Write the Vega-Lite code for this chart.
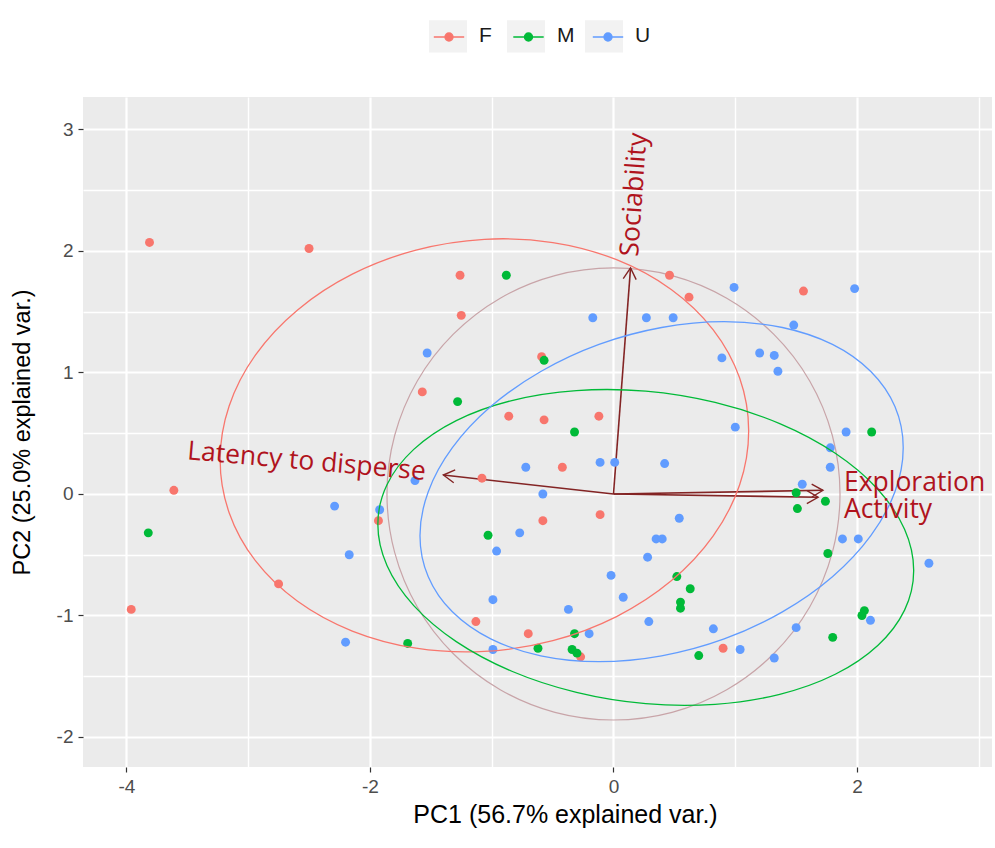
{
  "$schema": "https://vega.github.io/schema/vega-lite/v6.json",
  "width": 909,
  "height": 670,
  "autosize": {"type": "none"},
  "padding": {"left": 83, "top": 97, "right": 3, "bottom": 81},
  "background": "white",
  "config": {
    "view": {"fill": "#EBEBEB", "stroke": null},
    "font": "Liberation Sans"
  },
  "datasets": {
    "pts": [
      {"x": -3.81, "y": 2.07, "g": "F"}, {"x": -2.50, "y": 2.02, "g": "F"}, {"x": -1.26, "y": 1.80, "g": "F"}, {"x": -1.25, "y": 1.47, "g": "F"},
      {"x": -0.59, "y": 1.13, "g": "F"}, {"x": -1.57, "y": 0.84, "g": "F"}, {"x": -0.86, "y": 0.64, "g": "F"}, {"x": -0.57, "y": 0.61, "g": "F"},
      {"x": -0.12, "y": 0.64, "g": "F"}, {"x": 0.46, "y": 1.80, "g": "F"}, {"x": 0.62, "y": 1.62, "g": "F"}, {"x": -0.42, "y": 0.22, "g": "F"},
      {"x": 1.56, "y": 1.67, "g": "F"}, {"x": -3.61, "y": 0.03, "g": "F"}, {"x": -3.96, "y": -0.95, "g": "F"}, {"x": -2.75, "y": -0.74, "g": "F"},
      {"x": -1.93, "y": -0.22, "g": "F"}, {"x": -1.08, "y": 0.13, "g": "F"}, {"x": -0.58, "y": -0.22, "g": "F"}, {"x": -0.11, "y": -0.17, "g": "F"},
      {"x": -1.13, "y": -1.05, "g": "F"}, {"x": -0.70, "y": -1.15, "g": "F"}, {"x": -0.27, "y": -1.34, "g": "F"}, {"x": 0.90, "y": -1.27, "g": "F"},
      {"x": -0.88, "y": 1.80, "g": "M"}, {"x": -0.57, "y": 1.10, "g": "M"}, {"x": -1.28, "y": 0.76, "g": "M"}, {"x": -0.32, "y": 0.51, "g": "M"},
      {"x": 2.12, "y": 0.51, "g": "M"}, {"x": -3.82, "y": -0.32, "g": "M"}, {"x": -1.03, "y": -0.34, "g": "M"}, {"x": 0.52, "y": -0.68, "g": "M"},
      {"x": -0.32, "y": -1.15, "g": "M"}, {"x": -1.69, "y": -1.23, "g": "M"}, {"x": -0.62, "y": -1.27, "g": "M"}, {"x": -0.34, "y": -1.28, "g": "M"},
      {"x": -0.30, "y": -1.31, "g": "M"}, {"x": 0.63, "y": -0.78, "g": "M"}, {"x": 0.55, "y": -0.89, "g": "M"}, {"x": 0.55, "y": -0.94, "g": "M"},
      {"x": 1.50, "y": 0.01, "g": "M"}, {"x": 1.74, "y": -0.06, "g": "M"}, {"x": 1.51, "y": -0.12, "g": "M"}, {"x": 1.76, "y": -0.49, "g": "M"},
      {"x": 2.06, "y": -0.96, "g": "M"}, {"x": 2.04, "y": -1.00, "g": "M"}, {"x": 1.80, "y": -1.18, "g": "M"}, {"x": 0.70, "y": -1.33, "g": "M"},
      {"x": -1.53, "y": 1.16, "g": "U"}, {"x": -0.17, "y": 1.45, "g": "U"}, {"x": 0.27, "y": 1.45, "g": "U"}, {"x": 0.49, "y": 1.45, "g": "U"},
      {"x": -0.72, "y": 0.22, "g": "U"}, {"x": -0.11, "y": 0.26, "g": "U"}, {"x": 0.01, "y": 0.26, "g": "U"}, {"x": 0.42, "y": 0.25, "g": "U"},
      {"x": 0.99, "y": 1.70, "g": "U"}, {"x": 1.98, "y": 1.69, "g": "U"}, {"x": 1.48, "y": 1.39, "g": "U"}, {"x": 0.89, "y": 1.12, "g": "U"},
      {"x": 1.20, "y": 1.16, "g": "U"}, {"x": 1.32, "y": 1.14, "g": "U"}, {"x": 1.35, "y": 1.01, "g": "U"}, {"x": 1.00, "y": 0.55, "g": "U"},
      {"x": 1.91, "y": 0.51, "g": "U"}, {"x": 1.78, "y": 0.38, "g": "U"}, {"x": 1.78, "y": 0.22, "g": "U"}, {"x": -2.29, "y": -0.10, "g": "U"},
      {"x": -2.17, "y": -0.50, "g": "U"}, {"x": -2.20, "y": -1.22, "g": "U"}, {"x": -1.92, "y": -0.13, "g": "U"}, {"x": -1.63, "y": 0.11, "g": "U"},
      {"x": -0.58, "y": 0.00, "g": "U"}, {"x": -0.77, "y": -0.32, "g": "U"}, {"x": -0.96, "y": -0.47, "g": "U"}, {"x": 0.54, "y": -0.20, "g": "U"},
      {"x": 0.35, "y": -0.37, "g": "U"}, {"x": 0.40, "y": -0.37, "g": "U"}, {"x": 0.28, "y": -0.52, "g": "U"}, {"x": -0.02, "y": -0.67, "g": "U"},
      {"x": -0.99, "y": -0.87, "g": "U"}, {"x": 0.08, "y": -0.85, "g": "U"}, {"x": -0.37, "y": -0.95, "g": "U"}, {"x": 0.29, "y": -1.05, "g": "U"},
      {"x": -0.20, "y": -1.15, "g": "U"}, {"x": -0.99, "y": -1.28, "g": "U"}, {"x": 1.55, "y": 0.08, "g": "U"}, {"x": 1.88, "y": -0.37, "g": "U"},
      {"x": 2.01, "y": -0.37, "g": "U"}, {"x": 2.59, "y": -0.57, "g": "U"}, {"x": 2.11, "y": -1.04, "g": "U"}, {"x": 0.82, "y": -1.11, "g": "U"},
      {"x": 1.50, "y": -1.10, "g": "U"}, {"x": 1.04, "y": -1.28, "g": "U"}, {"x": 1.32, "y": -1.35, "g": "U"}
    ],
    "keys": [
      {"k": "F", "x": 0, "y": 0}, {"k": "M", "x": 0, "y": 0}, {"k": "U", "x": 0, "y": 0}
    ],
    "circ": [
      {"i": 0, "x": 1.86, "y": 0}, {"i": 1, "x": 1.797, "y": 0.481}, {"i": 2, "x": 1.611, "y": 0.93}, {"i": 3, "x": 1.315, "y": 1.315},
      {"i": 4, "x": 0.93, "y": 1.611}, {"i": 5, "x": 0.481, "y": 1.797}, {"i": 6, "x": 0, "y": 1.86}, {"i": 7, "x": -0.481, "y": 1.797},
      {"i": 8, "x": -0.93, "y": 1.611}, {"i": 9, "x": -1.315, "y": 1.315}, {"i": 10, "x": -1.611, "y": 0.93}, {"i": 11, "x": -1.797, "y": 0.481},
      {"i": 12, "x": -1.86, "y": 0}, {"i": 13, "x": -1.797, "y": -0.481}, {"i": 14, "x": -1.611, "y": -0.93}, {"i": 15, "x": -1.315, "y": -1.315},
      {"i": 16, "x": -0.93, "y": -1.611}, {"i": 17, "x": -0.481, "y": -1.797}, {"i": 18, "x": 0, "y": -1.86}, {"i": 19, "x": 0.481, "y": -1.797},
      {"i": 20, "x": 0.93, "y": -1.611}, {"i": 21, "x": 1.315, "y": -1.315}, {"i": 22, "x": 1.611, "y": -0.93}, {"i": 23, "x": 1.797, "y": -0.481}
    ],
    "ell": [
      {"g": "F", "i": 0, "x": 1.11, "y": 0.519}, {"g": "F", "i": 1, "x": 1.036, "y": 0.954}, {"g": "F", "i": 2, "x": 0.819, "y": 1.351}, {"g": "F", "i": 3, "x": 0.474, "y": 1.683},
      {"g": "F", "i": 4, "x": 0.025, "y": 1.928}, {"g": "F", "i": 5, "x": -0.498, "y": 2.069}, {"g": "F", "i": 6, "x": -1.06, "y": 2.096}, {"g": "F", "i": 7, "x": -1.622, "y": 2.007},
      {"g": "F", "i": 8, "x": -2.145, "y": 1.809}, {"g": "F", "i": 9, "x": -2.594, "y": 1.515}, {"g": "F", "i": 10, "x": -2.939, "y": 1.145}, {"g": "F", "i": 11, "x": -3.156, "y": 0.724},
      {"g": "F", "i": 12, "x": -3.23, "y": 0.281}, {"g": "F", "i": 13, "x": -3.156, "y": -0.154}, {"g": "F", "i": 14, "x": -2.939, "y": -0.551}, {"g": "F", "i": 15, "x": -2.594, "y": -0.883},
      {"g": "F", "i": 16, "x": -2.145, "y": -1.128}, {"g": "F", "i": 17, "x": -1.622, "y": -1.269}, {"g": "F", "i": 18, "x": -1.06, "y": -1.296}, {"g": "F", "i": 19, "x": -0.498, "y": -1.207},
      {"g": "F", "i": 20, "x": 0.025, "y": -1.009}, {"g": "F", "i": 21, "x": 0.474, "y": -0.715}, {"g": "F", "i": 22, "x": 0.819, "y": -0.345}, {"g": "F", "i": 23, "x": 1.036, "y": 0.076},
      {"g": "M", "i": 0, "x": 2.465, "y": -0.63}, {"g": "M", "i": 1, "x": 2.39, "y": -0.291}, {"g": "M", "i": 2, "x": 2.17, "y": 0.039}, {"g": "M", "i": 3, "x": 1.821, "y": 0.335},
      {"g": "M", "i": 4, "x": 1.365, "y": 0.579}, {"g": "M", "i": 5, "x": 0.834, "y": 0.753}, {"g": "M", "i": 6, "x": 0.265, "y": 0.846}, {"g": "M", "i": 7, "x": -0.304, "y": 0.851},
      {"g": "M", "i": 8, "x": -0.835, "y": 0.769}, {"g": "M", "i": 9, "x": -1.291, "y": 0.604}, {"g": "M", "i": 10, "x": -1.64, "y": 0.367}, {"g": "M", "i": 11, "x": -1.86, "y": 0.076},
      {"g": "M", "i": 12, "x": -1.935, "y": -0.25}, {"g": "M", "i": 13, "x": -1.86, "y": -0.589}, {"g": "M", "i": 14, "x": -1.64, "y": -0.919}, {"g": "M", "i": 15, "x": -1.291, "y": -1.215},
      {"g": "M", "i": 16, "x": -0.835, "y": -1.459}, {"g": "M", "i": 17, "x": -0.304, "y": -1.633}, {"g": "M", "i": 18, "x": 0.265, "y": -1.726}, {"g": "M", "i": 19, "x": 0.834, "y": -1.731},
      {"g": "M", "i": 20, "x": 1.365, "y": -1.649}, {"g": "M", "i": 21, "x": 1.821, "y": -1.484}, {"g": "M", "i": 22, "x": 2.17, "y": -1.247}, {"g": "M", "i": 23, "x": 2.39, "y": -0.956},
      {"g": "U", "i": 0, "x": 2.379, "y": 0.381}, {"g": "U", "i": 1, "x": 2.311, "y": 0.719}, {"g": "U", "i": 2, "x": 2.113, "y": 1.008}, {"g": "U", "i": 3, "x": 1.798, "y": 1.231},
      {"g": "U", "i": 4, "x": 1.387, "y": 1.37}, {"g": "U", "i": 5, "x": 0.909, "y": 1.418}, {"g": "U", "i": 6, "x": 0.395, "y": 1.37}, {"g": "U", "i": 7, "x": -0.119, "y": 1.231},
      {"g": "U", "i": 8, "x": -0.597, "y": 1.008}, {"g": "U", "i": 9, "x": -1.008, "y": 0.719}, {"g": "U", "i": 10, "x": -1.323, "y": 0.381}, {"g": "U", "i": 11, "x": -1.521, "y": 0.019},
      {"g": "U", "i": 12, "x": -1.589, "y": -0.343}, {"g": "U", "i": 13, "x": -1.521, "y": -0.681}, {"g": "U", "i": 14, "x": -1.323, "y": -0.97}, {"g": "U", "i": 15, "x": -1.008, "y": -1.193},
      {"g": "U", "i": 16, "x": -0.597, "y": -1.332}, {"g": "U", "i": 17, "x": -0.119, "y": -1.38}, {"g": "U", "i": 18, "x": 0.395, "y": -1.332}, {"g": "U", "i": 19, "x": 0.909, "y": -1.193},
      {"g": "U", "i": 20, "x": 1.387, "y": -0.97}, {"g": "U", "i": 21, "x": 1.798, "y": -0.681}, {"g": "U", "i": 22, "x": 2.113, "y": -0.343}, {"g": "U", "i": 23, "x": 2.311, "y": 0.019}
    ],
    "arrows": [
      {"v": "Sociability", "x": 0.14, "y": 1.86, "ox": 0, "oy": 0, "ang": 274.3},
      {"v": "Latency to disperse", "x": -1.397, "y": 0.156, "ox": 0, "oy": 0, "ang": 186.5},
      {"v": "Exploration", "x": 1.72, "y": 0.03, "ox": 0, "oy": 0, "ang": 359},
      {"v": "Activity", "x": 1.68, "y": -0.027, "ox": 0, "oy": 0, "ang": 0.8}
    ],
    "labL": [
      {"lab": "Sociability", "x": 0.201, "y": 1.951, "ang": 274},
      {"lab": "Exploration", "x": 1.892, "y": 0.027, "ang": 0},
      {"lab": "Activity", "x": 1.892, "y": -0.2, "ang": 0}
    ],
    "labR": [
      {"lab": "Latency to disperse", "x": -1.548, "y": 0.115, "ang": 5}
    ]
  },
  "encoding": {
    "x": {
      "field": "x", "type": "quantitative",
      "scale": {"domain": [-4.356, 3.108], "nice": false, "zero": false},
      "axis": {
        "title": "PC1 (56.7% explained var.)",
        "values": [-4, -3, -2, -1, 0, 1, 2, 3],
        "labelExpr": "datum.value % 2 === 0 ? (datum.value < 0 ? '-' + abs(datum.value) : '' + datum.value) : ''",
        "domain": false,
        "grid": true,
        "gridColor": "white",
        "gridWidth": {"condition": {"test": "datum.value % 2 !== 0", "value": 1.4}, "value": 2.2},
        "tickColor": {"condition": {"test": "datum.value % 2 !== 0", "value": "transparent"}, "value": "#333333"},
        "tickSize": 5,
        "tickWidth": 1.2,
        "labelFont": "Liberation Sans Narrow, Liberation Sans",
        "labelFontSize": 19,
        "labelColor": "#4D4D4D",
        "labelPadding": 5,
        "titleFont": "Liberation Sans",
        "titleFontSize": 25,
        "titleFontWeight": "normal",
        "titleColor": "#000000",
        "titlePadding": 6,
        "titleX": 482
      }
    },
    "y": {
      "field": "y", "type": "quantitative",
      "scale": {"domain": [-2.247, 3.267], "nice": false, "zero": false},
      "axis": {
        "title": "PC2 (25.0% explained var.)",
        "values": [-2, -1.5, -1, -0.5, 0, 0.5, 1, 1.5, 2, 2.5, 3],
        "labelExpr": "datum.value % 1 === 0 ? (datum.value < 0 ? '-' + abs(datum.value) : '' + datum.value) : ''",
        "domain": false,
        "grid": true,
        "gridColor": "white",
        "gridWidth": {"condition": {"test": "datum.value % 1 !== 0", "value": 1.4}, "value": 2.2},
        "tickColor": {"condition": {"test": "datum.value % 1 !== 0", "value": "transparent"}, "value": "#333333"},
        "tickSize": 5,
        "tickWidth": 1.2,
        "labelFont": "Liberation Sans Narrow, Liberation Sans",
        "labelFontSize": 19,
        "labelColor": "#4D4D4D",
        "labelPadding": 5,
        "titleFont": "Liberation Sans",
        "titleFontSize": 23.5,
        "titleFontWeight": "normal",
        "titleColor": "#000000",
        "titlePadding": 22
      }
    }
  },
  "layer": [
    {
      "data": {"name": "circ"},
      "mark": {"type": "line", "interpolate": "cardinal-closed", "stroke": "#C8A4A8", "strokeWidth": 1.2},
      "encoding": {"order": {"field": "i", "type": "quantitative"}}
    },
    {
      "data": {"name": "arrows"},
      "mark": {"type": "rule", "color": "#832424", "strokeWidth": 1.6},
      "encoding": {"x2": {"field": "ox"}, "y2": {"field": "oy"}}
    },
    {
      "data": {"name": "arrows"},
      "mark": {"type": "point", "shape": "M-1,-0.58L0,0L-1,0.58", "filled": false, "size": 500, "stroke": "#832424", "strokeWidth": 1.4, "opacity": 1},
      "encoding": {"angle": {"field": "ang", "type": "quantitative", "scale": null}}
    },
    {
      "data": {"name": "pts"},
      "mark": {"type": "point", "filled": true, "size": 80, "opacity": 1},
      "encoding": {
        "color": {
          "field": "g", "type": "nominal",
          "scale": {"domain": ["F", "M", "U"], "range": ["#F8766D", "#00BA38", "#619CFF"]},
          "legend": {
            "orient": "none", "legendX": 346, "legendY": -80, "direction": "horizontal",
            "title": null, "padding": 0, "zindex": 2, "gridAlign": "all",
            "symbolType": "M-0.8,0H0.8M-0.21,0A0.21,0.21,0,1,1,0.21,0A0.21,0.21,0,1,1,-0.21,0Z",
            "symbolSize": 1444, "symbolStrokeWidth": 1.4, "symbolOpacity": 1,
            "labelExpr": "''",
            "labelFont": "Liberation Sans", "labelFontSize": 21,
            "labelOffset": 0, "columnPadding": 39.5,
            "encode": {"symbols": {"update": {"fill": {"scale": "color", "field": "value"}, "stroke": {"scale": "color", "field": "value"}}}}
          }
        }
      }
    },
    {
      "data": {"name": "ell"},
      "mark": {"type": "line", "interpolate": "cardinal-closed", "strokeWidth": 1.3},
      "encoding": {
        "color": {"field": "g", "type": "nominal"},
        "order": {"field": "i", "type": "quantitative"}
      }
    },
    {
      "data": {"name": "keys"},
      "mark": {"type": "point", "filled": true, "size": 0},
      "encoding": {
        "fill": {
          "field": "k", "type": "nominal",
          "scale": {"range": ["#F2F2F2", "#F2F2F2", "#F2F2F2"]},
          "legend": {
            "orient": "none", "legendX": 346, "legendY": -80, "direction": "horizontal",
            "title": null, "padding": 0, "zindex": 1, "gridAlign": "all",
            "symbolType": "M-1,-0.85H1V0.85H-1Z",
            "symbolSize": 1444, "symbolStrokeWidth": 0, "symbolOpacity": 1,
            "labelFont": "Liberation Sans", "labelFontSize": 21, "labelColor": "#1A1A1A",
            "labelOffset": 12, "columnPadding": 10,
            "encode": {"symbols": {"update": {
              "size": {"value": 1444},
              "fill": {"value": "#F2F2F2"},
              "opacity": {"value": 1},
              "fillOpacity": {"value": 1},
              "strokeWidth": {"value": 0},
              "shape": {"value": "M-1,-0.85H1V0.85H-1Z"}
            }}}
          }
        }
      }
    },
    {
      "data": {"name": "labL"},
      "mark": {"type": "text", "align": "left", "baseline": "alphabetic", "font": "Open Sans", "fontSize": 26.5, "color": "#B0131D"},
      "encoding": {
        "text": {"field": "lab"},
        "angle": {"field": "ang", "type": "quantitative", "scale": null}
      }
    },
    {
      "data": {"name": "labR"},
      "mark": {"type": "text", "align": "right", "baseline": "alphabetic", "font": "Open Sans", "fontSize": 26.5, "color": "#B0131D"},
      "encoding": {
        "text": {"field": "lab"},
        "angle": {"field": "ang", "type": "quantitative", "scale": null}
      }
    }
  ]
}
